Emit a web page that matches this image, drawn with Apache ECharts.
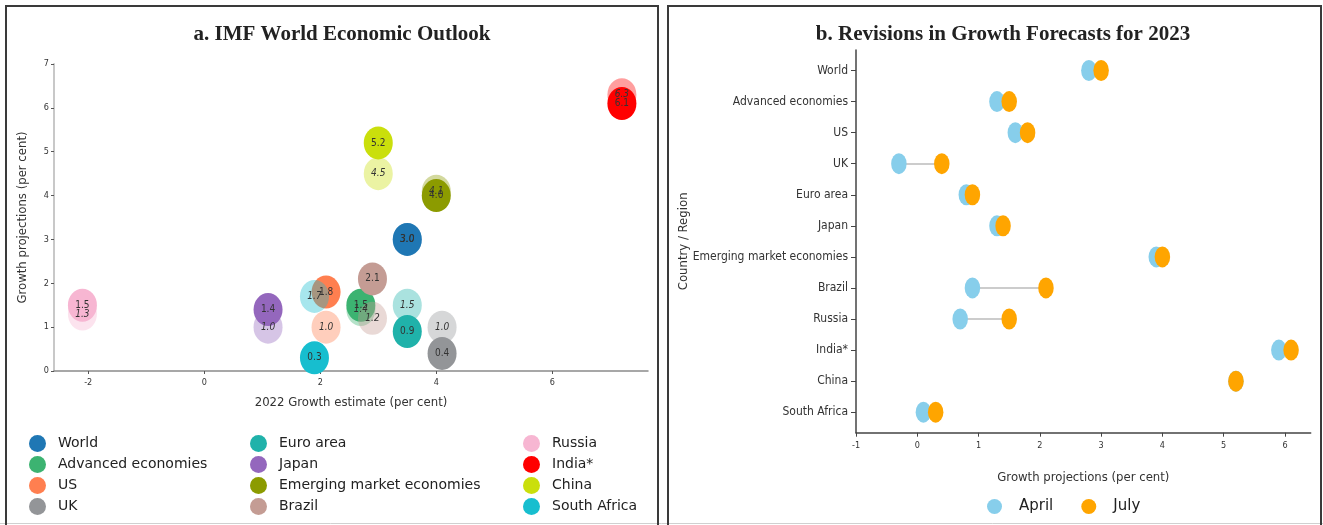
<!DOCTYPE html>
<html>
<head>
<meta charset="utf-8">
<script src="https://cdn.jsdelivr.net/npm/echarts@6/dist/echarts.min.js"></script>
<style>
  html, body { margin: 0; padding: 0; background: #fff; }
  #chart { width: 1323px; height: 525px; }
</style>
</head>
<body>
<div id="chart"></div>
<script>
// Countries / regions (shared by both panels)
const countries = ['World', 'Advanced economies', 'US', 'UK', 'Euro area', 'Japan',
  'Emerging market economies', 'Brazil', 'Russia', 'India*', 'China', 'South Africa'];

// Panel a: 2022 growth estimate vs projections (per cent)
const estimate2022   = [3.5, 2.7, 2.1, 4.1, 3.5, 1.1, 4.0, 2.9, -2.1, 7.2, 3.0, 1.9];
const projection2023 = [3.0, 1.5, 1.8, 0.4, 0.9, 1.4, 4.0, 2.1, 1.5, 6.1, 5.2, 0.3];
const projection2024 = [3.0, 1.4, 1.0, 1.0, 1.5, 1.0, 4.1, 1.2, 1.3, 6.3, 4.5, 1.7];
const countryColors = ['#1f77b4', '#3cb371', '#ff7f50', '#939598', '#20b2aa', '#9467bd',
  '#8c9b00', '#c49c94', '#f7b6d2', '#ff0000', '#cadf0c', '#17becf'];

// Panel b: 2023 growth forecasts, April vs July releases
const aprilForecast = [2.8, 1.3, 1.6, -0.3, 0.8, 1.3, 3.9, 0.9, 0.7, 5.9, 5.2, 0.1];
const julyForecast  = [3.0, 1.5, 1.8, 0.4, 0.9, 1.4, 4.0, 2.1, 1.5, 6.1, 5.2, 0.3];

// Tick values
const xTicksA = [-2, 0, 2, 4, 6];
const xTicksB = [-1, 0, 1, 2, 3, 4, 5, 6];

const ELLIPSE = 'path://M1,0A1,1,0,1,1,1,2A1,1,0,1,1,1,0Z';
const NARROW = "'Liberation Sans Narrow', 'DejaVu Sans Condensed', sans-serif";
const SERIF = "'Liberation Serif', 'DejaVu Serif', serif";

const chart = echarts.init(document.getElementById('chart'), null, { renderer: 'canvas' });

const bubbleLabel = {
  show: true, position: 'inside', color: '#333', fontSize: 10, fontFamily: NARROW,
  formatter: p => p.value[1].toFixed(1)
};

// one bubble series per country: faint 2024 point, then solid 2023 point
const bubbleSeries = countries.map((name, i) => ({
  type: 'scatter', name, xAxisIndex: 0, yAxisIndex: 0,
  symbol: ELLIPSE, symbolSize: [29, 33],
  itemStyle: { color: countryColors[i], opacity: 1 },
  label: bubbleLabel,
  emphasis: { disabled: true },
  data: [
    { value: [estimate2022[i], projection2024[i]],
      itemStyle: { color: echarts.color.modifyAlpha(countryColors[i], 0.38) },
      label: { fontStyle: 'italic' } },
    { value: [estimate2022[i], projection2023[i]] }
  ]
}));

const legendText = { fontSize: 14, fontFamily: "'DejaVu Sans', sans-serif", color: '#222', padding: [0, 0, 0, 7] };
const legendCol = (names, left) => ({
  data: names, left, top: 430, orient: 'vertical', icon: ELLIPSE,
  itemWidth: 17, itemHeight: 18, itemGap: 4, textStyle: legendText, selectedMode: false
});

const axisName = { fontSize: 13, fontFamily: NARROW, color: '#333' };

const option = {
  animation: false,
  title: [
    { text: 'a. IMF World Economic Outlook', left: 337, top: 19, textAlign: 'center',
      textStyle: { fontFamily: SERIF, fontWeight: 'bold', fontSize: 21, color: '#222' } },
    { text: 'b. Revisions in Growth Forecasts for 2023', left: 998, top: 19, textAlign: 'center',
      textStyle: { fontFamily: SERIF, fontWeight: 'bold', fontSize: 21, color: '#222' } }
  ],
  legend: [
    legendCol(countries.slice(0, 4), 24),
    legendCol(countries.slice(4, 8), 245),
    legendCol(countries.slice(8, 12), 518),
    { data: ['April', 'July'], left: 982, top: 494, icon: ELLIPSE, itemWidth: 15, itemHeight: 16,
      itemGap: 28, selectedMode: false,
      textStyle: { fontSize: 15, fontFamily: "'DejaVu Sans', sans-serif", color: '#222', padding: [0, 0, 0, 12] } }
  ],
  grid: [
    { left: 54, right: 675, top: 64, bottom: 154 },
    { left: 856, right: 12.3, top: 50, bottom: 92.3 }
  ],
  xAxis: [
    { gridIndex: 0, type: 'value', min: -2.59, max: 7.65,
      name: '2022 Growth estimate (per cent)', nameLocation: 'middle', nameGap: 25,
      nameMoveOverlap: false, nameTextStyle: axisName,
      axisLine: { onZero: false, lineStyle: { color: '#8a8a8a', width: 1.5 } },
      axisTick: { show: true, length: 3, lineStyle: { color: '#555' }, customValues: xTicksA },
      axisLabel: { fontSize: 9, fontFamily: NARROW, color: '#333', margin: 7, customValues: xTicksA },
      splitLine: { show: false } },
    { gridIndex: 1, type: 'value', min: -1, max: 6.42,
      name: 'Growth projections (per cent)', nameLocation: 'middle', nameGap: 38,
      nameMoveOverlap: false, nameTextStyle: axisName,
      axisLine: { onZero: false, lineStyle: { color: '#444', width: 1.5 } },
      axisTick: { show: true, length: 4, lineStyle: { color: '#444' }, customValues: xTicksB },
      axisLabel: { fontSize: 9, fontFamily: NARROW, color: '#333', margin: 8, customValues: xTicksB },
      splitLine: { show: false } }
  ],
  yAxis: [
    { gridIndex: 0, type: 'value', min: 0, max: 7, interval: 1,
      name: 'Growth projections (per cent)', nameLocation: 'middle', nameGap: 25,
      nameMoveOverlap: false, nameTextStyle: axisName,
      axisLine: { show: true, onZero: false, lineStyle: { color: '#c8c8c8', width: 2 } },
      axisTick: { show: true, length: 3, lineStyle: { color: '#555' } },
      axisLabel: { fontSize: 9, fontFamily: NARROW, color: '#333', margin: 5 },
      splitLine: { show: false } },
    { gridIndex: 1, type: 'value', inverse: true, min: -0.66, max: 11.66,
      name: 'Country / Region', nameLocation: 'middle', nameGap: 166,
      nameMoveOverlap: false, nameTextStyle: axisName,
      axisLine: { show: true, onZero: false, lineStyle: { color: '#444', width: 1.5 } },
      axisTick: { show: true, length: 5, lineStyle: { color: '#444' }, customValues: countries.map((c, i) => i) },
      axisLabel: { fontSize: 12, fontFamily: NARROW, color: '#333', margin: 8,
        customValues: countries.map((c, i) => i), formatter: v => countries[v] },
      splitLine: { show: false } }
  ],
  series: [
    ...bubbleSeries,
    { type: 'lines', coordinateSystem: 'cartesian2d', xAxisIndex: 1, yAxisIndex: 1, z: 1,
      lineStyle: { color: '#cccccc', width: 2, opacity: 1 }, silent: true,
      data: countries.map((c, i) => ({ coords: [[aprilForecast[i], i], [julyForecast[i], i]] })) },
    { type: 'scatter', name: 'April', xAxisIndex: 1, yAxisIndex: 1, z: 3,
      symbol: ELLIPSE, symbolSize: [15.5, 21], itemStyle: { color: '#87ceeb', opacity: 1 },
      emphasis: { disabled: true },
      data: countries.map((c, i) => [aprilForecast[i], i]) },
    { type: 'scatter', name: 'July', xAxisIndex: 1, yAxisIndex: 1, z: 4,
      symbol: ELLIPSE, symbolSize: [15.5, 21], itemStyle: { color: '#ffa500', opacity: 1 },
      emphasis: { disabled: true },
      data: countries.map((c, i) => [julyForecast[i], i]) }
  ],
  graphic: [
    { type: 'rect', shape: { x: 6, y: 6, width: 652, height: 530 }, silent: true,
      style: { fill: 'none', stroke: '#3a3a3a', lineWidth: 2 } },
    { type: 'rect', shape: { x: 668, y: 6, width: 653, height: 530 }, silent: true,
      style: { fill: 'none', stroke: '#3a3a3a', lineWidth: 2 } },
    { type: 'line', shape: { x1: 0, y1: 523.5, x2: 1323, y2: 523.5 }, silent: true, z: -1,
      style: { stroke: '#d0d0d0', lineWidth: 1 } }
  ]
};

chart.setOption(option);
</script>
</body>
</html>
